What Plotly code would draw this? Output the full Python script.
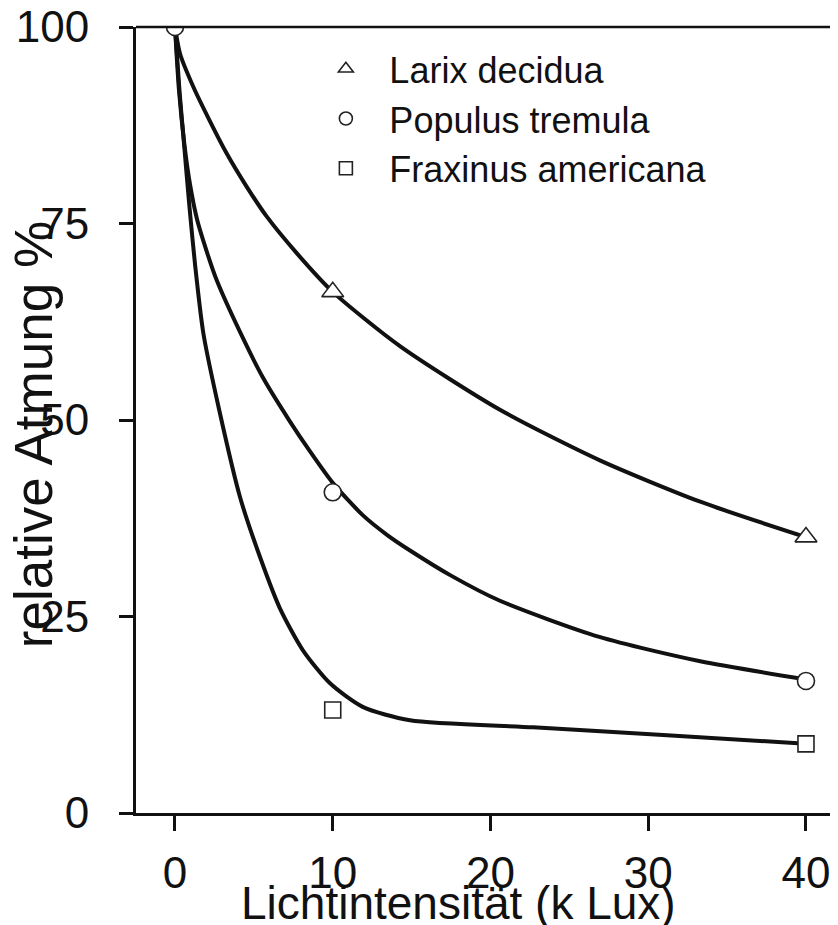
import plotly.graph_objects as go

# measured points (k Lux, relative respiration %)
meas_x = [0, 10, 40]
larix_meas = [100, 66.3, 35.1]
populus_meas = [100, 40.8, 16.8]
fraxinus_meas = [100, 13.1, 8.8]

# fitted curves
larix_cx = [0, 0.32, 1.16, 2.22, 3.28, 4.54, 5.81, 7.73, 10, 14.26, 20.6, 26.9, 33.3, 40]
larix_cy = [100, 96.6, 92.4, 88.0, 83.9, 79.7, 75.9, 71.2, 66.3, 59.4, 51.3, 44.9, 39.6, 35.1]

populus_cx = [0, 0.25, 0.6, 0.95, 1.4, 2.05, 2.64, 4.12, 5.6, 7.29, 8.56, 10, 11.9, 13.5, 14.9, 17.5, 20.6, 26.9, 33.3, 40]
populus_cy = [100, 92, 85, 80, 75.5, 71.2, 67.8, 61.2, 55.3, 49.8, 46.0, 42.0, 37.9, 35.3, 33.4, 30.2, 27.0, 22.4, 19.3, 17.0]

fraxinus_cx = [0, 0.3, 0.6, 0.9, 1.27, 1.8, 2.8, 4.12, 5.4, 6.66, 8.11, 9.83, 11.9, 14.9, 22.7, 31.2, 40]
fraxinus_cy = [100, 91.5, 84.5, 77.5, 69.8, 61.0, 51.3, 40.2, 32.5, 26.0, 20.7, 16.5, 13.5, 11.8, 10.9, 9.9, 8.8]

names = ["Larix decidua", "Populus tremula", "Fraxinus americana"]
x_ticks = [0, 10, 20, 30, 40]
y_ticks = [0, 25, 50, 75, 100]

FONT = "Liberation Sans"
INK = "#111111"
fig = go.Figure()

line_style = dict(color=INK, width=4, shape="spline", smoothing=0.7)
for cx, cy in [(larix_cx, larix_cy), (populus_cx, populus_cy), (fraxinus_cx, fraxinus_cy)]:
    fig.add_trace(go.Scatter(x=cx, y=cy, mode="lines", line=line_style,
                             showlegend=False, hoverinfo="skip"))

mk_line = dict(color="#222222", width=1.6)
# measured markers (the shared 0-point is drawn once, as a circle)
fig.add_trace(go.Scatter(x=meas_x[1:], y=larix_meas[1:], mode="markers", showlegend=False,
                         marker=dict(symbol="triangle-up", size=19, color="white", line=mk_line)))
fig.add_trace(go.Scatter(x=meas_x, y=populus_meas, mode="markers", showlegend=False,
                         marker=dict(symbol="circle", size=17, color="white", line=mk_line)))
fig.add_trace(go.Scatter(x=meas_x[1:], y=fraxinus_meas[1:], mode="markers", showlegend=False,
                         marker=dict(symbol="square", size=16, color="white", line=mk_line)))

# legend entries
for name, sym in zip(names, ["triangle-up", "circle", "square"]):
    fig.add_trace(go.Scatter(x=[None], y=[None], mode="markers", name=name,
                             marker=dict(symbol=sym, size=13, color="white",
                                         line=dict(color="#222222", width=1.6))))

fig.update_layout(
    width=830, height=917,
    margin=dict(l=128, r=0, t=19, b=112, autoexpand=False),
    paper_bgcolor="white", plot_bgcolor="white",
    font=dict(family=FONT, color=INK),
    legend=dict(x=0.237, y=0.985, xanchor="left", yanchor="top",
                font=dict(size=36, family=FONT, color=INK),
                bgcolor="rgba(0,0,0,0)", itemwidth=77),
    xaxis=dict(range=[-2.472, 42.03], tickvals=x_ticks, ticks="outside", ticklen=15,
               tickwidth=2.5, tickcolor=INK, showline=True, linewidth=3,
               linecolor=INK, showgrid=False, zeroline=False, automargin=False,
               ticklabelstandoff=4, ticklabeloverflow="allow",
               tickfont=dict(size=44, family=FONT)),
    yaxis=dict(range=[0, 100], tickvals=y_ticks, ticks="outside", ticklen=14,
               tickwidth=2.5, tickcolor=INK, showline=True, linewidth=3,
               linecolor=INK, showgrid=False, zeroline=False, automargin=False,
               ticklabelstandoff=21, ticklabeloverflow="allow",
               tickfont=dict(size=44, family=FONT)),
    shapes=[dict(type="line", xref="paper", yref="paper", x0=0, x1=1, y0=1, y1=1,
                 line=dict(color=INK, width=2.5))],
    annotations=[
        dict(text="relative Atmung %", xref="paper", yref="paper",
             x=-0.1450, y=0.481, xanchor="center", yanchor="middle",
             textangle=-90, showarrow=False,
             font=dict(size=53, family=FONT, color=INK)),
        dict(text="Lichtintensität (k Lux)", xref="paper", yref="paper",
             x=0.4587, y=-0.1140, xanchor="center", yanchor="middle",
             showarrow=False, font=dict(size=46, family=FONT, color=INK)),
    ],
)

fig.write_html("out.html")
